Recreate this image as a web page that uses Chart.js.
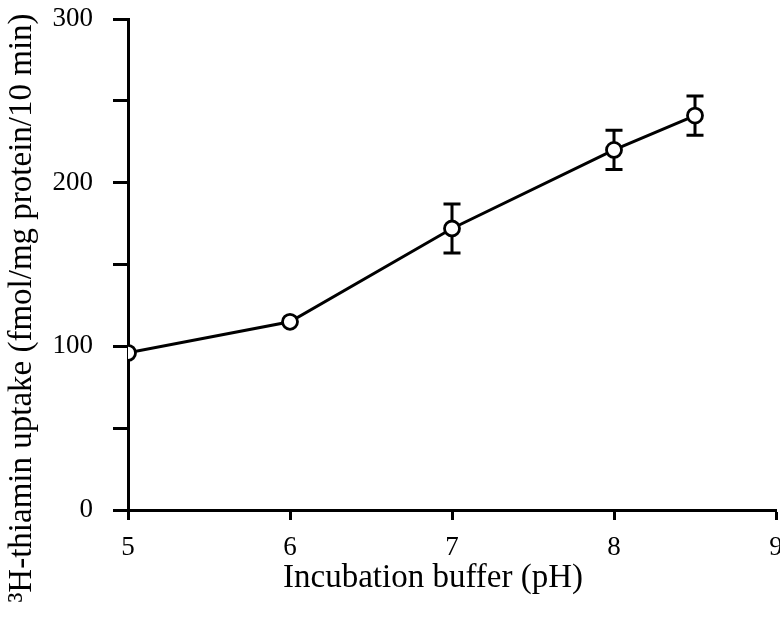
<!DOCTYPE html>
<html>
<head>
<meta charset="utf-8">
<script src="https://cdn.jsdelivr.net/npm/chart.js@4.4.0/dist/chart.umd.min.js"></script>
<style>
  html, body { margin: 0; padding: 0; background: #fff; }
  #wrap { width: 780px; height: 622px; }
</style>
</head>
<body>
<div id="wrap"><canvas id="uptakeChart" width="780" height="622"></canvas></div>
<script>
const ph_values = [5, 6, 7, 8, 8.5];
const uptake = [96, 115, 172, 220, 241];
const uptake_err = [null, null, 15, 12, 12];
const x_ticks = [5, 6, 7, 8, 9];
const y_labels = [0, 100, 200, 300];
const x_title = 'Incubation buffer (pH)';
const y_title = '³H-thiamin uptake (fmol/mg protein/10 min)';

const points = ph_values.map((x, i) => ({ x: x, y: uptake[i] }));

// error bars go under the line and the white circles
const errorBars = {
  id: 'errorBars',
  beforeDatasetsDraw(chart) {
    const ctx = chart.ctx;
    const xs = chart.scales.x, ys = chart.scales.y;
    ctx.save();
    ctx.strokeStyle = '#000';
    ctx.lineWidth = 3;
    ph_values.forEach((x, i) => {
      if (uptake_err[i] == null) return;
      const px = xs.getPixelForValue(x);
      const top = ys.getPixelForValue(uptake[i] + uptake_err[i]);
      const bot = ys.getPixelForValue(uptake[i] - uptake_err[i]);
      ctx.beginPath();
      ctx.moveTo(px, top); ctx.lineTo(px, bot);
      ctx.moveTo(px - 8.5, top); ctx.lineTo(px + 8.5, top);
      ctx.moveTo(px - 8.5, bot); ctx.lineTo(px + 8.5, bot);
      ctx.stroke();
    });
    ctx.restore();
  }
};

// axis titles placed like the original figure (not centred on the plot area)
const axisTitles = {
  id: 'axisTitles',
  afterDraw(chart) {
    const ctx = chart.ctx;
    ctx.save();
    ctx.fillStyle = '#000';
    ctx.font = '33px "Liberation Serif"';
    ctx.textAlign = 'center';
    ctx.textBaseline = 'middle';
    ctx.fillText(x_title, 433, 578);
    ctx.translate(22, 308);
    ctx.rotate(-Math.PI / 2);
    ctx.fillText(y_title, 0, 0);
    ctx.restore();
  }
};

const config = {
  type: 'scatter',
  data: {
    datasets: [{
      data: points,
      showLine: true,
      borderColor: '#000',
      borderWidth: 3,
      pointRadius: 7.5,
      pointBorderWidth: 2.8,
      pointBackgroundColor: '#fff',
      pointBorderColor: '#000'
    }]
  },
  options: {
    responsive: false,
    animation: false,
    layout: { autoPadding: false, padding: { top: 19, right: 4, left: 0, bottom: 0 } },
    plugins: { legend: { display: false }, tooltip: { enabled: false } },
    scales: {
      x: {
        type: 'linear',
        min: 5,
        max: 9,
        afterBuildTicks: (scale) => { scale.ticks = x_ticks.map(v => ({ value: v })); },
        afterFit: (scale) => { scale.height = 112; scale.paddingLeft = 0; scale.paddingRight = 0; },
        border: { color: '#000', width: 3 },
        grid: { drawOnChartArea: false, color: '#000', tickLength: 10, tickWidth: 3 },
        ticks: { color: '#000', padding: 12, font: { family: 'Liberation Serif', size: 27 } }
      },
      y: {
        min: 0,
        max: 300,
        afterFit: (scale) => { scale.width = 128; scale.paddingTop = 0; scale.paddingBottom = 0; },
        border: { color: '#000', width: 3 },
        grid: { drawOnChartArea: false, color: '#000', tickLength: 15, tickWidth: 3 },
        ticks: {
          stepSize: 50,
          color: '#000',
          padding: 20,
          font: { family: 'Liberation Serif', size: 27 },
          callback: (v) => y_labels.includes(v) ? String(v) : ''
        }
      }
    }
  },
  plugins: [errorBars, axisTitles]
};

new Chart(document.getElementById('uptakeChart'), config);
</script>
</body>
</html>
